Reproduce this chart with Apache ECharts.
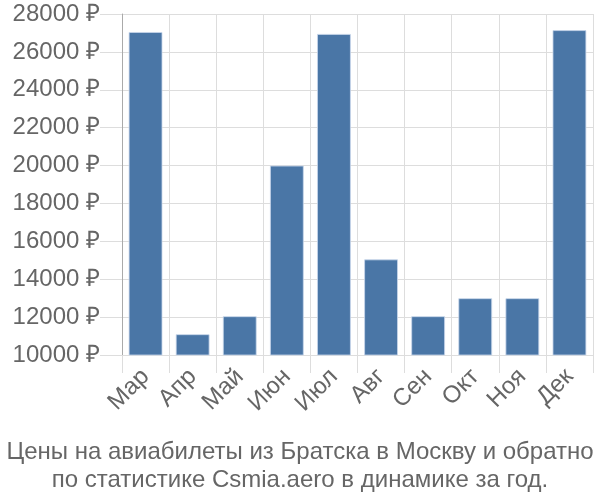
<!DOCTYPE html>
<html><head><meta charset="utf-8">
<script src="https://cdn.jsdelivr.net/npm/echarts@6/dist/echarts.min.js"></script>
<style>html,body{margin:0;padding:0;background:#fff}#c{width:600px;height:500px}</style>
</head><body><div id="c"></div>
<script>
const categories = ['Мар','Апр','Май','Июн','Июл','Авг','Сен','Окт','Ноя','Дек'];
const prices = [27050, 11100, 12050, 20000, 26950, 15050, 12050, 13000, 13000, 27150];
const yMin = 10000, yMax = 28000, yStep = 2000;
const titleText = 'Цены на авиабилеты из Братска в Москву и обратно\nпо статистике Csmia.aero в динамике за год.';

const chart = echarts.init(document.getElementById('c'));
chart.setOption({
  animation: false,
  textStyle: {fontFamily: '"Liberation Sans", Arial, sans-serif'},
  title: {
    text: titleText, left: 'center', top: 433,
    textStyle: {fontSize: 24, fontWeight: 'normal', color: '#666', lineHeight: 28, fontFamily: '"Liberation Sans", Arial, sans-serif'}
  },
  grid: {left: 122, right: 7, top: 14, bottom: 145, containLabel: false},
  xAxis: {
    type: 'category', data: categories, boundaryGap: true,
    axisLine: {show: true, lineStyle: {color: '#ddd'}},
    axisTick: {show: true, length: 18, lineStyle: {color: '#ddd'}, alignWithLabel: false},
    splitLine: {show: true, lineStyle: {color: '#ddd', width: 1}},
    axisLabel: {rotate: 45, fontSize: 24, color: '#666', margin: 18, interval: 0}
  },
  yAxis: {
    type: 'value', min: yMin, max: yMax, interval: yStep,
    axisLine: {show: true, lineStyle: {color: '#aaa'}},
    axisTick: {show: true, length: 22, lineStyle: {color: '#ddd'}},
    splitLine: {show: true, lineStyle: {color: '#ddd', width: 1}},
    axisLabel: {fontSize: 24, color: '#666', margin: 22, formatter: v => v + ' ₽'}
  },
  series: [{
    type: 'bar', data: prices, barWidth: '72%',
    itemStyle: {color: '#4a76a6', borderColor: 'rgba(200,215,235,0.8)', borderWidth: 1}
  }]
});
</script></body></html>
